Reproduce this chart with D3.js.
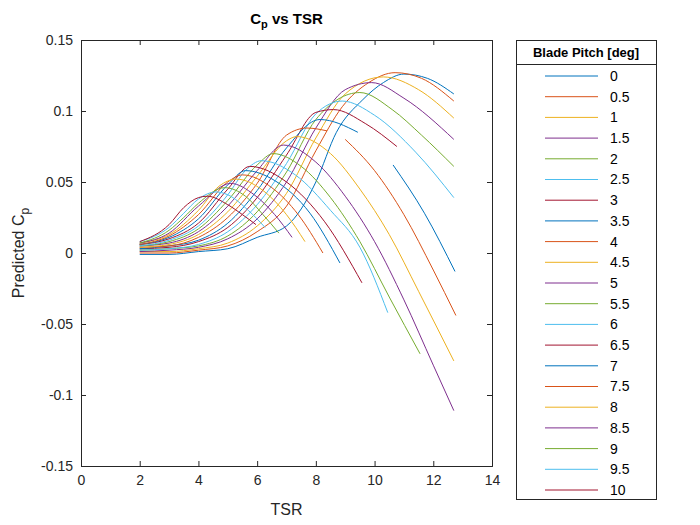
<!DOCTYPE html>
<html>
<head>
<meta charset="utf-8">
<script src="https://cdn.jsdelivr.net/npm/d3@7"></script>
<style>
body { margin: 0; background: #fff; }
text { font-family: "Liberation Sans", Arial, sans-serif; }
</style>
</head>
<body>
<div id="chart"></div>
<script>
"use strict";

// blade pitch values [deg]
var pitches = ["0","0.5","1","1.5","2","2.5","3","3.5","4","4.5","5","5.5","6","6.5","7","7.5","8","8.5","9","9.5","10"];

// [TSR, Cp] per pitch, null = gap in the curve
var cp0 = [[2,-.001],[3,-.001],[4,.001],[5,.003],[6,.011],[7,.019],[7.5,.031],[8,.05],[8.7,.085],[9.6,.108],[10.3,.12],[11,.126],[11.8,.123],[12.7,.112]];
var cp05 = [[2,0],[3,0],[4,.002],[5,.005],[6,.015],[7,.033],[8,.072],[8.9,.103],[9.8,.12],[10.7,.127],[11.6,.123],[12.7,.107]];
var cp1 = [[2,.001],[3,.001],[4,.003],[5,.007],[6,.019],[7,.042],[8,.081],[9,.112],[10.3,.124],[11.5,.115],[12.7,.095]];
var cp15 = [[2,.001],[3,.002],[4,.004],[5,.01],[6,.024],[7,.05],[8,.088],[9,.115],[9.9,.12],[11,.109],[12.7,.08]];
var cp2 = [[2,.002],[3,.003],[4,.005],[5,.012],[6,.029],[7,.057],[8,.094],[9.5,.113],[10.6,.101],[11.6,.083],[12.7,.061]];
var cp25 = [[2,.002],[3,.003],[4,.006],[5,.015],[6,.034],[7,.063],[8,.098],[8.9,.107],[10,.097],[11.4,.071],[12.7,.039]];
var cp3 = [[2,.003],[3,.004],[4,.008],[5,.018],[6,.039],[7,.069],[8,.099],[8.6,.101],[9.7,.091],[10.76,.075]];
var cp35 = [[2,.003],[3,.005],[4,.009],[5,.021],[6,.044],[7,.074],[8.14,.094],[9.43,.085],null,[10.63,.062],[11.7,.028],[12.74,-.013]];
var cp4 = [[2,.004],[3,.005],[4,.011],[5,.025],[6,.049],[7,.083],[7.7,.088],[8.38,.086],null,[9,.08],[10,.058],[11,.027],[12,-.012],[12.77,-.044]];
var cp45 = [[2,.004],[3,.006],[4,.013],[5,.029],[6,.054],[7,.079],[7.35,.082],[8.5,.07],[9.5,.045],[10.5,.013],[11.5,-.027],[12.7,-.076]];
var cp5 = [[2,.005],[3,.007],[4,.015],[5,.033],[6,.058],[6.9,.076],[8,.064],[9,.04],[10,.008],[11,-.033],[12,-.079],[12.7,-.111]];
var cp55 = [[2,.005],[3,.008],[4,.017],[5,.037],[6,.062],[6.55,.07],[7.5,.061],[8.5,.039],[9.5,.008],[10.5,-.031],[11.55,-.071]];
var cp6 = [[2,.005],[3,.009],[4,.019],[5,.041],[5.6,.058],[6.15,.065],[7.3,.055],[8.5,.03],[9.5,.004],[10.45,-.042]];
var cp65 = [[2,.006],[3,.01],[4,.021],[5,.045],[5.75,.061],[7,.05],[8.3,.022],[9.57,-.021]];
var cp7 = [[2,.006],[3,.011],[4,.024],[5,.048],[5.6,.058],[6.6,.051],[7.8,.028],[8.82,-.007]];
var cp75 = [[2,.006],[3,.012],[4,.027],[5,.05],[5.5,.055],[6.5,.046],[7.4,.027],[8.24,0]];
var cp8 = [[2,.007],[3,.013],[4,.03],[4.7,.047],[5.3,.052],[6.2,.044],[7,.027],[7.63,.008]];
var cp85 = [[2,.007],[3,.014],[4,.033],[5.1,.049],[5.9,.041],[6.6,.027],[7.19,.011]];
var cp9 = [[2,.007],[3,.016],[3.5,.025],[4,.035],[4.9,.046],[5.6,.04],[6.2,.027],[6.74,.014]];
var cp95 = [[2,.008],[3,.018],[3.5,.028],[4,.038],[4.6,.043],[5,.041],[5.7,.03],[6.27,.018]];
var cp10 = [[2,.008],[3,.02],[3.5,.032],[4,.039],[4.3,.04],[5,.034],[5.5,.027],[5.96,.02]];

var series = [cp0,cp05,cp1,cp15,cp2,cp25,cp3,cp35,cp4,cp45,cp5,cp55,cp6,cp65,cp7,cp75,cp8,cp85,cp9,cp95,cp10];
var xTicks = [0,2,4,6,8,10,12,14];
var yTicks = [-0.15,-0.1,-0.05,0,0.05,0.1,0.15];
var colors = ["#0072BD","#D95319","#EDB120","#7E2F8E","#77AC30","#4DBEEE","#A2142F"];

var svg = d3.select("#chart").append("svg")
	.attr("width", 700)
	.attr("height", 525);

var pLeft = 81, pRight = 492, pTop = 40, pBottom = 466;

var x = d3.scaleLinear().domain([0, 14]).range([pLeft, pRight]);
var y = d3.scaleLinear().domain([-0.15, 0.15]).range([pBottom, pTop]);

// axes
svg.append("g")
	.attr("transform", "translate(0," + pBottom + ")")
	.call(d3.axisBottom(x).tickValues(xTicks).tickSize(-5).tickPadding(9));
svg.append("g")
	.attr("transform", "translate(" + pLeft + ",0)")
	.call(d3.axisLeft(y).tickValues(yTicks).tickSize(-5).tickPadding(8)
		.tickFormat(function(d){ return String(+d.toFixed(2)); }));
svg.append("g")
	.attr("transform", "translate(0," + pTop + ")")
	.call(d3.axisTop(x).tickValues(xTicks).tickSize(-5).tickFormat(""));
svg.append("g")
	.attr("transform", "translate(" + pRight + ",0)")
	.call(d3.axisRight(y).tickValues(yTicks).tickSize(-5).tickFormat(""));

svg.selectAll(".domain").attr("stroke", "#262626");
svg.selectAll(".tick line").attr("stroke", "#262626");
svg.selectAll(".tick text")
	.attr("fill", "#262626")
	.style("font-size", "14px");

// curves
var line = d3.line()
	.defined(function(d){ return d != null; })
	.x(function(d){ return x(d[0]); })
	.y(function(d){ return y(d[1]); })
	.curve(d3.curveMonotoneX);

svg.append("g").selectAll("path")
	.data(series)
	.enter().append("path")
	.attr("d", line)
	.attr("fill", "none")
	.attr("stroke", function(d, i){ return colors[i % 7]; })
	.attr("stroke-width", 1);

// title and labels
var title = svg.append("text")
	.attr("x", (pLeft + pRight) / 2)
	.attr("y", 24)
	.attr("text-anchor", "middle")
	.style("font-size", "15px")
	.style("font-weight", "bold")
	.attr("fill", "#000");
title.append("tspan").text("C");
title.append("tspan").text("p").attr("dy", 4).style("font-size", "11px");
title.append("tspan").text(" vs TSR").attr("dy", -4);

svg.append("text")
	.attr("x", (pLeft + pRight) / 2)
	.attr("y", 515)
	.attr("text-anchor", "middle")
	.style("font-size", "16px")
	.attr("fill", "#262626")
	.text("TSR");

var ylab = svg.append("text")
	.attr("transform", "translate(24," + ((pTop + pBottom) / 2) + ") rotate(-90)")
	.attr("text-anchor", "middle")
	.style("font-size", "16px")
	.attr("fill", "#262626");
ylab.append("tspan").text("Predicted C");
ylab.append("tspan").text("p").attr("dy", 5).style("font-size", "12px");

// legend
var lg = svg.append("g");
lg.append("rect")
	.attr("x", 516.5).attr("y", 40.5)
	.attr("width", 140).attr("height", 459)
	.attr("fill", "#fff").attr("stroke", "#262626");
lg.append("line")
	.attr("x1", 516.5).attr("x2", 656.5)
	.attr("y1", 64.5).attr("y2", 64.5)
	.attr("stroke", "#262626");
lg.append("text")
	.attr("x", 586).attr("y", 57)
	.attr("text-anchor", "middle")
	.style("font-size", "13px")
	.style("font-weight", "bold")
	.text("Blade Pitch [deg]");

var ly = d3.scalePoint().domain(pitches).range([76, 490]);
var entries = lg.selectAll(".entry")
	.data(pitches)
	.enter().append("g")
	.attr("transform", function(d){ return "translate(0," + ly(d) + ")"; });
entries.append("line")
	.attr("x1", 545).attr("x2", 598)
	.attr("stroke", function(d, i){ return colors[i % 7]; });
entries.append("text")
	.attr("x", 610).attr("dy", "0.35em")
	.style("font-size", "14px")
	.attr("fill", "#000")
	.text(function(d){ return d; });
</script>
</body>
</html>
